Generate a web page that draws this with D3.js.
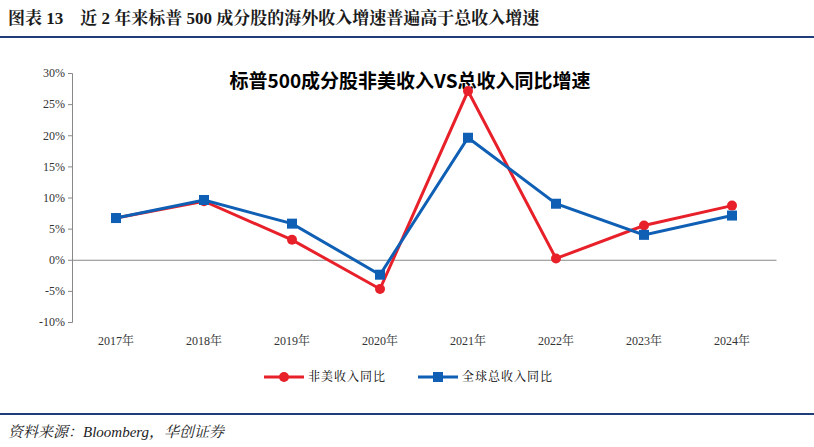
<!DOCTYPE html>
<html><head><meta charset="utf-8">
<script src="https://cdn.jsdelivr.net/npm/d3@7"></script>
<style>body{margin:0;background:#fff} text{white-space:pre}</style>
</head><body>
<svg id="c" width="814" height="447"></svg>
<script>
const categories = ["2017年","2018年","2019年","2020年","2021年","2022年","2023年","2024年"];
const nonUS = [6.7, 9.4, 3.2, -4.7, 27.1, 0.2, 5.5, 8.7];
const total = [6.7, 9.6, 5.8, -2.4, 19.6, 9.0, 4.0, 7.1];
const yTicks = [-10,-5,0,5,10,15,20,25,30];
const seriesNames = ["非美收入同比","全球总收入同比"];

const svg = d3.select("#c");
const serif = "'Liberation Serif','DejaVu Serif','Noto Serif CJK SC',serif";
svg.append("text").attr("x",8).attr("y",24).attr("font-family",serif+",'Noto Sans CJK SC'")
  .attr("font-weight","bold").attr("font-size",17).attr("fill","#1a1a1a")
  .text("图表 13    近 2 年来标普 500 成分股的海外收入增速普遍高于总收入增速");
svg.append("line").attr("x1",0).attr("x2",814).attr("y1",37).attr("y2",37).attr("stroke","#1f3d7a").attr("stroke-width",2);
svg.append("line").attr("x1",0).attr("x2",814).attr("y1",414).attr("y2",414).attr("stroke","#1f3d7a").attr("stroke-width",2);
svg.append("text").attr("x",8).attr("y",437).attr("font-family",serif+",'Noto Sans CJK SC'")
  .attr("font-style","italic").attr("font-size",15).attr("fill","#222").text("资料来源：Bloomberg，华创证券");

const x = d3.scaleBand().domain(categories).range([72,776]);
const y = d3.scaleLinear().domain([-10,30]).range([322,73]);
const ax = svg.append("g").attr("transform","translate(72,0)")
  .call(d3.axisLeft(y).tickValues(yTicks).tickFormat(d=>d+"%").tickSize(4));
ax.selectAll("text").attr("font-family",serif).attr("font-size",12).attr("fill","#333");
ax.selectAll("line,path").attr("stroke","#888");
const bx = svg.append("g").attr("transform",`translate(0,${y(0)})`)
  .call(d3.axisBottom(x).tickSize(0).tickFormat(""));
bx.select("path").attr("stroke","#888");
svg.selectAll(".xl").data(categories).join("text")
  .attr("x",d=>x(d)+x.bandwidth()/2).attr("y",345).attr("text-anchor","middle")
  .attr("font-family",serif+",'Noto Serif CJK SC','Noto Sans CJK SC'").attr("font-size",12).attr("fill","#333").text(d=>d);

svg.append("text").attr("x",410).attr("y",88).attr("text-anchor","middle")
  .attr("font-family","'Noto Sans CJK SC',sans-serif").attr("font-weight","bold").attr("font-size",19)
  .text("标普500成分股非美收入VS总收入同比增速");

const cx = d=>x(d)+x.bandwidth()/2;
const line = d3.line().x((d,i)=>cx(categories[i])).y(d=>y(d));
const red="#e8202a", blue="#0f5fb5";
svg.append("path").datum(nonUS).attr("d",line).attr("fill","none").attr("stroke",red).attr("stroke-width",3);
svg.append("path").datum(total).attr("d",line).attr("fill","none").attr("stroke",blue).attr("stroke-width",3);
svg.selectAll(".rd").data(nonUS).join("circle").attr("cx",(d,i)=>cx(categories[i])).attr("cy",d=>y(d)).attr("r",5).attr("fill",red);
svg.selectAll(".bs").data(total).join("rect").attr("x",(d,i)=>cx(categories[i])-5).attr("y",d=>y(d)-5).attr("width",10).attr("height",10).attr("fill",blue);

// legend
const lg = svg.append("g");
lg.append("line").attr("x1",264).attr("x2",304).attr("y1",377).attr("y2",377).attr("stroke",red).attr("stroke-width",3);
lg.append("circle").attr("cx",284).attr("cy",377).attr("r",5).attr("fill",red);
lg.append("text").attr("x",308).attr("y",381).attr("font-family","'Noto Serif CJK SC','Noto Sans CJK SC',serif").attr("font-size",12).attr("letter-spacing",1).text(seriesNames[0]);
lg.append("line").attr("x1",418).attr("x2",458).attr("y1",377).attr("y2",377).attr("stroke",blue).attr("stroke-width",3);
lg.append("rect").attr("x",433).attr("y",372).attr("width",10).attr("height",10).attr("fill",blue);
lg.append("text").attr("x",462).attr("y",381).attr("font-family","'Noto Serif CJK SC','Noto Sans CJK SC',serif").attr("font-size",12).attr("letter-spacing",1).text(seriesNames[1]);
</script>
</body></html>
